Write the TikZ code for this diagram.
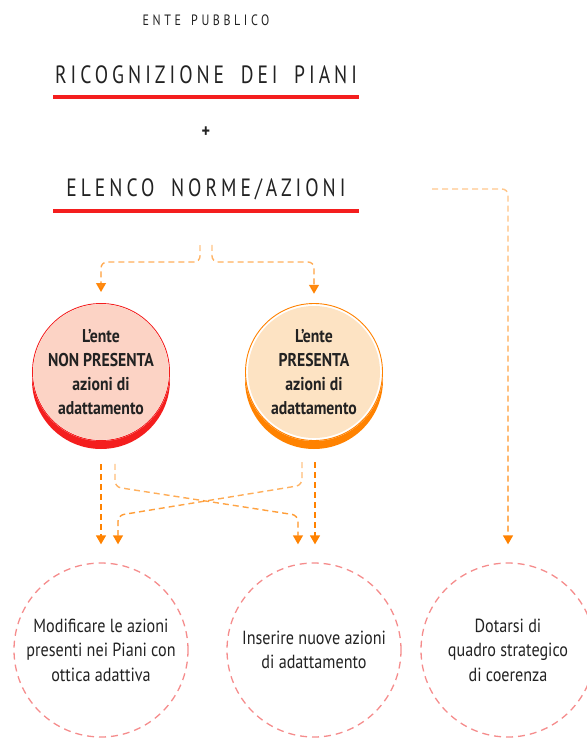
\documentclass[tikz,border=0pt]{standalone}
\usepackage{fontspec}
\setmainfont{PT Sans}[FakeStretch=0.85]
\newfontfamily\headfont{PT Sans}[FakeStretch=0.78,LetterSpace=16,WordSpace=1.8]
\newfontfamily\smallheadfont{PT Sans}[FakeStretch=0.8,LetterSpace=24,WordSpace=1.5]
\usetikzlibrary{arrows.meta,fadings}
\definecolor{hred}{HTML}{F41E1E}
\definecolor{horange}{HTML}{FF8200}
\definecolor{pinkfill}{HTML}{FCD3C5}
\definecolor{peachfill}{HTML}{FDE3C3}
\definecolor{salmon}{HTML}{F58C8C}
\definecolor{txt}{HTML}{222222}
\tikzfading[name=fadedown, top color=transparent!55, bottom color=transparent!0]
\tikzset{
  headtxt/.style={font=\headfont\fontsize{25}{28}\selectfont, text=txt, inner sep=0pt},
  redbar/.style={fill=hred, minimum width=306pt, minimum height=4pt, inner sep=0pt, draw=none},
  connbase/.style={draw=horange, line width=1.4pt, dash pattern=on 6pt off 4pt,
     rounded corners=6pt, -{Triangle[width=10pt,length=9pt]}},
  conn/.style={connbase, path fading=fadedown},
  topcirc/.style={circle, minimum size=132pt, inner sep=0pt, align=center,
     font=\bfseries\fontsize{18.5}{24}\selectfont, text=txt},
  botcirc/.style={circle, draw=salmon, line width=1.3pt, dash pattern=on 7pt off 5pt,
     minimum size=174pt, inner sep=0pt, align=center,
     font=\fontsize{19}{24.5}\selectfont, text=txt}
}
\begin{document}
\begin{tikzpicture}[x=1pt,y=-1pt]
\useasboundingbox (0,0) rectangle (586,738);
% headings
\node[font=\smallheadfont\fontsize{15}{17}\selectfont, text=txt] (ente) at (206,20) {ENTE PUBBLICO};
\node[headtxt] (ric) at (206,75) {RICOGNIZIONE DEI PIANI};
\node[redbar] (bar1) at (206,97) {};
\node[font=\bfseries\fontsize{19}{21}\selectfont, text=txt] (plus) at (206,132) {+};
\node[headtxt] (elenco) at (206,189) {ELENCO NORME/AZIONI};
\node[redbar] (bar2) at (206,211) {};
% top circles
\fill[hred] (101,380) circle[radius=69pt];
\fill[white] (101,372) circle[radius=69pt];
\draw[hred, line width=0.9pt] (101,372) circle[radius=68.5pt];
\node[topcirc, fill=pinkfill] (np) at (101,372) {L’ente\\NON PRESENTA\\azioni di\\adattamento};
\fill[horange] (314,380) circle[radius=69pt];
\fill[white] (314,372) circle[radius=69pt];
\draw[horange, line width=0.9pt] (314,372) circle[radius=68.5pt];
\node[topcirc, fill=peachfill] (pr) at (314,372) {L’ente\\PRESENTA\\azioni di\\adattamento};
% bottom circles
\node[botcirc] (b1) at (101,650) {Modificare le azioni\\presenti nei Piani con\\ottica adattiva};
\node[botcirc] (b2) at (314,650) {Inserire nuove azioni\\di adattamento};
\node[botcirc] (b3) at (508,650) {Dotarsi di\\quadro strategico\\di coerenza};
% connectors
\coordinate (split) at (206,245);
\coordinate (rs) at (432,189);
\draw[conn] ([xshift=-6pt]split) -- ++(0,17) -| ([yshift=12pt]np.north);
\draw[conn] ([xshift=6pt]split) -- ++(0,17) -| ([yshift=12pt]pr.north);
\draw[connbase] ([yshift=-24pt]np.south) -- ([yshift=18pt]b1.north);
\draw[conn] ([xshift=14pt,yshift=-24pt]np.south) -- ++(0,23) -- ([xshift=-16pt,yshift=47pt]b2.north) -- ([xshift=-16pt,yshift=18pt]b2.north);
\draw[conn] ([xshift=-12pt,yshift=-24pt]pr.south) -- ++(0,23) -- ([xshift=17pt,yshift=47pt]b1.north) -- ([xshift=17pt,yshift=18pt]b1.north);
\draw[connbase] ([xshift=1pt,yshift=-24pt]pr.south) -- ([xshift=1pt,yshift=18pt]b2.north);
\draw[conn] (rs) -| ([yshift=18pt]b3.north);
\end{tikzpicture}
\end{document}
